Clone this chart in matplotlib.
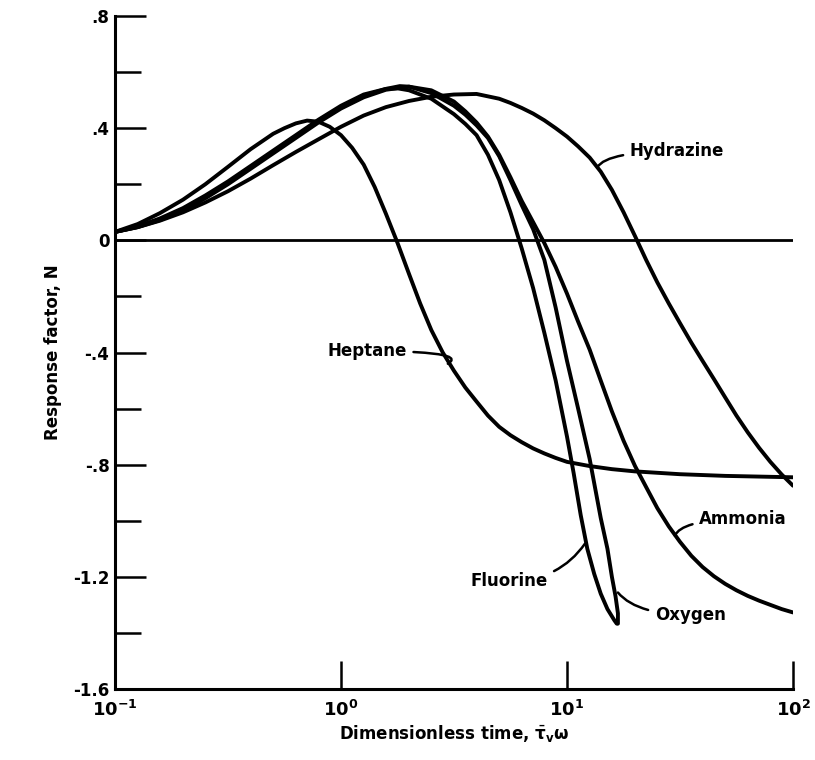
import numpy as np
import matplotlib
matplotlib.use("Agg")
import matplotlib.pyplot as plt

# ---------------- data ----------------
heptane_x = [0.1, 0.126, 0.158, 0.2, 0.251, 0.316, 0.398, 0.501, 0.562, 0.631, 0.708, 0.794,
             0.891, 1.0, 1.12, 1.26, 1.41, 1.58, 1.78, 2.0, 2.24, 2.51, 2.82, 3.16, 3.55, 3.98,
             4.47, 5.01, 5.62, 6.31, 7.08, 7.94, 8.91, 10, 12.6, 15.8, 20, 31.6, 50.1, 100]
heptane_y = [0.03, 0.058, 0.097, 0.145, 0.20, 0.262, 0.325, 0.38, 0.40, 0.417, 0.427, 0.423,
             0.405, 0.375, 0.33, 0.27, 0.19, 0.095, -0.01, -0.12, -0.225, -0.32, -0.40, -0.465,
             -0.525, -0.575, -0.625, -0.665, -0.695, -0.72, -0.742, -0.76, -0.776, -0.79,
             -0.805, -0.816, -0.824, -0.834, -0.84, -0.845]

fluorine_x = [0.1, 0.126, 0.158, 0.2, 0.251, 0.316, 0.398, 0.501, 0.631, 0.794, 1.0, 1.26,
              1.58, 1.78, 2.0, 2.51, 3.16, 3.55, 3.98, 4.47, 5.01, 5.62, 6.31, 7.08, 7.94,
              8.91, 10.0, 10.7, 11.5, 12.3, 13.2, 14.1, 15.1, 16.2, 16.6]
fluorine_y = [0.03, 0.05, 0.078, 0.115, 0.16, 0.21, 0.265, 0.32, 0.375, 0.43, 0.48, 0.52,
              0.54, 0.542, 0.535, 0.505, 0.45, 0.415, 0.375, 0.305, 0.215, 0.10, -0.03,
              -0.17, -0.33, -0.50, -0.70, -0.83, -0.98, -1.10, -1.19, -1.26, -1.315, -1.355,
              -1.367]

oxygen_x = [0.1, 0.126, 0.158, 0.2, 0.251, 0.316, 0.398, 0.501, 0.631, 0.794, 1.0, 1.26,
            1.58, 1.82, 2.0, 2.51, 3.16, 3.55, 3.98, 4.47, 5.01, 5.62, 6.31, 7.08, 7.94, 8.91,
            10.0, 11.2, 12.6, 14.1, 15.1, 15.8, 16.4, 16.8, 16.8]
oxygen_y = [0.03, 0.048, 0.075, 0.11, 0.155, 0.205, 0.26, 0.315, 0.37, 0.425, 0.475, 0.515,
            0.54, 0.55, 0.548, 0.525, 0.48, 0.448, 0.41, 0.365, 0.30, 0.215, 0.125, 0.04,
            -0.07, -0.24, -0.43, -0.60, -0.78, -0.99, -1.10, -1.20, -1.27, -1.33, -1.367]

ammonia_x = [0.1, 0.126, 0.158, 0.2, 0.251, 0.316, 0.398, 0.501, 0.631, 0.794, 1.0, 1.26,
             1.58, 2.0, 2.51, 3.16, 3.55, 3.98, 4.47, 5.01, 5.62, 6.31, 7.08, 7.94, 8.91, 10.0,
             11.2, 12.6, 14.1, 15.8, 17.8, 20.0, 22.4, 25.1, 28.2, 31.6, 35.5, 39.8, 44.7,
             50.1, 56.2, 63.1, 70.8, 79.4, 89.1, 100]
ammonia_y = [0.03, 0.047, 0.072, 0.107, 0.15, 0.20, 0.255, 0.31, 0.365, 0.42, 0.47, 0.51,
             0.537, 0.548, 0.535, 0.495, 0.46, 0.42, 0.37, 0.305, 0.225, 0.14, 0.065, -0.01,
             -0.095, -0.19, -0.29, -0.39, -0.50, -0.61, -0.715, -0.805, -0.88, -0.955, -1.02,
             -1.075, -1.125, -1.165, -1.198, -1.225, -1.248, -1.268, -1.285, -1.30, -1.315,
             -1.327]

hydrazine_x = [0.1, 0.126, 0.158, 0.2, 0.251, 0.316, 0.398, 0.501, 0.631, 0.794, 1.0, 1.26,
               1.58, 2.0, 2.51, 3.16, 3.98, 5.01, 5.62, 6.31, 7.08, 7.94, 8.91, 10.0, 11.2,
               12.6, 14.1, 15.8, 17.8, 20.0, 22.4, 25.1, 28.2, 31.6, 35.5, 39.8, 44.7, 50.1,
               56.2, 63.1, 70.8, 79.4, 89.1, 100]
hydrazine_y = [0.03, 0.047, 0.07, 0.10, 0.135, 0.175, 0.22, 0.268, 0.315, 0.36, 0.405, 0.445,
               0.475, 0.497, 0.512, 0.52, 0.522, 0.505, 0.49, 0.472, 0.452, 0.428, 0.40, 0.37,
               0.335, 0.295, 0.245, 0.18, 0.10, 0.015, -0.07, -0.15, -0.225, -0.295, -0.365,
               -0.43, -0.495, -0.56, -0.625, -0.685, -0.74, -0.79, -0.835, -0.875]

x_ticks = [0.1, 1, 10, 100]
x_ticklabels = [r"$\mathbf{10^{-1}}$", r"$\mathbf{10^{0}}$", r"$\mathbf{10^{1}}$", r"$\mathbf{10^{2}}$"]
y_major = [-1.6, -1.2, -0.8, -0.4, 0.0, 0.4, 0.8]
y_labels = ["-1.6", "-1.2", "-.8", "-.4", "0", ".4", ".8"]
y_minor = [-1.4, -1.0, -0.6, -0.2, 0.2, 0.6]

# label text, anchor on curve, text position (data coords)
labels = ["Hydrazine", "Heptane", "Ammonia", "Fluorine", "Oxygen"]
label_anchor_x = [13.6, 2.97, 30.0, 12.0, 16.8]
label_anchor_y = [0.26, -0.44, -1.053, -1.082, -1.256]
label_text_x = [19.0, 1.95, 38.5, 8.2, 24.5]
label_text_y = [0.317, -0.395, -0.995, -1.215, -1.335]
label_ha = ["left", "right", "left", "right", "left"]
label_conn = ["angle3,angleA=0,angleB=60", "angle3,angleA=0,angleB=30",
              "angle3,angleA=0,angleB=65", "angle3,angleA=0,angleB=55",
              "angle3,angleA=0,angleB=-50"]

# ---------------- plotting ----------------
plt.rcParams['font.family'] = ['DejaVu Sans']
plt.rcParams['mathtext.fontset'] = 'dejavusans'

fig = plt.figure(figsize=(8.15, 7.6), dpi=100)
ax = fig.add_axes([115/815, 1-689/760, (793-115)/815, (689-16)/760])

lw = 2.8
for xs, ys in [(heptane_x, heptane_y), (fluorine_x, fluorine_y), (oxygen_x, oxygen_y),
               (ammonia_x, ammonia_y), (hydrazine_x, hydrazine_y)]:
    ax.plot(xs, ys, color='black', lw=lw, solid_capstyle='round', solid_joinstyle='round')

ax.axhline(0, color='black', lw=2.0)

ax.set_xscale('log')
ax.set_xlim(0.1, 100)
ax.set_ylim(-1.6, 0.8)

for s in ['top', 'right']:
    ax.spines[s].set_visible(False)
for s in ['left', 'bottom']:
    ax.spines[s].set_linewidth(2.2)

ax.set_xticks(x_ticks)
ax.set_xticklabels(x_ticklabels, fontsize=13)
ax.xaxis.set_minor_locator(matplotlib.ticker.NullLocator())
ax.set_yticks(y_major)
ax.set_yticklabels(y_labels, fontsize=12, fontweight='bold')
ax.set_yticks(y_minor, minor=True)
ax.tick_params(axis='x', which='major', direction='in', length=20, width=1.8, pad=8)
ax.tick_params(axis='y', which='major', direction='in', length=22, width=1.8, pad=4)
ax.tick_params(axis='y', which='minor', direction='in', length=19, width=1.8)

ax.set_xlabel(r"Dimensionless time, $\bar{\mathbf{\tau}}_{\mathbf{v}}\mathbf{\omega}$",
              fontsize=12, fontweight='bold', labelpad=2)
ax.set_ylabel("Response factor, N", fontsize=12, fontweight='bold', labelpad=8)

for t, ax_, ay_, tx, ty, ha, cs in zip(labels, label_anchor_x, label_anchor_y,
                                       label_text_x, label_text_y, label_ha, label_conn):
    ax.annotate(t, xy=(ax_, ay_), xytext=(tx, ty), ha=ha, va='center',
                fontsize=12, fontweight='bold',
                arrowprops=dict(arrowstyle='-', color='black', lw=1.8,
                                shrinkA=3, shrinkB=0, connectionstyle=cs))

fig.savefig("out.png", dpi=100)
